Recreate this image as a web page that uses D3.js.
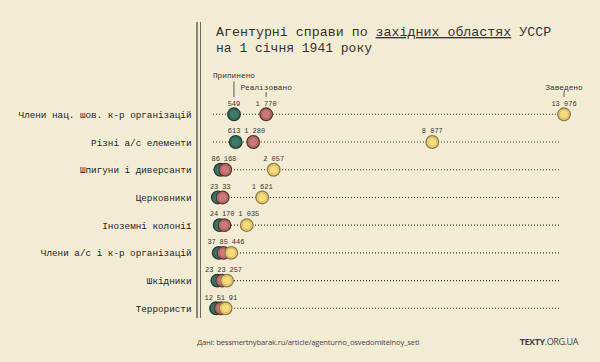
<!DOCTYPE html>
<html>
<head>
<meta charset="utf-8">
<script src="https://cdnjs.cloudflare.com/ajax/libs/d3/7.8.5/d3.min.js"></script>
<style>
  body { margin: 0; background: #f3ecd5; }
  svg { display: block; }
</style>
</head>
<body>
<div id="chart"></div>
<script>
var categories = [
  "Члени нац. шов. к-р організацій",
  "Різні а/с елементи",
  "Шпигуни і диверсанти",
  "Церковники",
  "Іноземні колонії",
  "Члени а/с і к-р організацій",
  "Шкідники",
  "Террористи"
];
var stopped  = [549, 613, 86, 23, 24, 37, 23, 12];      // Припинено
var realized = [1770, 1280, 168, 33, 170, 85, 23, 51];   // Реалізовано
var opened   = [13076, 8077, 2057, 1621, 1035, 446, 257, 91]; // Заведено
var seriesNames = ["Припинено", "Реалізовано", "Заведено"];
var fills   = ["#3d7c6b", "#cc7a77", "#f8dc7c"];
var strokes = ["#1f3a33", "#5b3131", "#8f7a45"];

var width = 600, height = 362;
var mono = "'Liberation Mono', 'Courier New', monospace";

var svg = d3.select("#chart")
  .append("svg")
  .attr("width", width)
  .attr("height", height);

svg.append("rect")
  .attr("width", width)
  .attr("height", height)
  .attr("fill", "#f3ecd5");

var x = d3.scaleLinear().domain([0, 13076]).range([219.5, 564]);
var y = d3.scalePoint().domain(categories).range([114.3, 308.3]);
var fmt = function(v) { return d3.format(",")(v).replace(/,/g, " "); };

// double vertical rule
svg.append("line").attr("x1", 197).attr("x2", 197).attr("y1", 22).attr("y2", 318)
  .attr("stroke", "#6f6a5e").attr("stroke-width", 1.6);
svg.append("line").attr("x1", 200.5).attr("x2", 200.5).attr("y1", 22).attr("y2", 318)
  .attr("stroke", "#6f6a5e").attr("stroke-width", 1);

// title
var title = svg.append("text")
  .attr("x", 216)
  .attr("y", 36)
  .style("font-family", mono)
  .style("font-size", "13.3px")
  .style("fill", "#333");
title.append("tspan").text("Агентурні справи по ");
title.append("tspan").style("text-decoration", "underline").text("західних областях");
title.append("tspan").text(" УССР");
svg.append("text")
  .attr("x", 216)
  .attr("y", 52)
  .style("font-family", mono)
  .style("font-size", "13px")
  .style("fill", "#333")
  .text("на 1 січня 1941 року");

// simple 1d dodge so overlapping things spread around their mean
function dodge(xs, sizes, gap) {
  var idx = xs.map(function(d, i) { return i; }).sort(function(a, b) { return xs[a] - xs[b]; });
  var out = xs.slice();
  var groups = [];
  idx.forEach(function(i) {
    groups.push({ items: [i] });
    // merge while overlapping
    while (groups.length > 1) {
      var g = groups[groups.length - 1], p = groups[groups.length - 2];
      layout(p); layout(g);
      var pl = p.items[p.items.length - 1], gf = g.items[0];
      if (out[gf] - out[pl] < (sizes[pl] + sizes[gf]) / 2 + gap) {
        p.items = p.items.concat(g.items);
        groups.pop();
      } else break;
    }
  });
  groups.forEach(layout);
  function layout(g) {
    var mean = d3.mean(g.items, function(i) { return xs[i]; });
    var pos = 0, p = [];
    g.items.forEach(function(i, k) {
      if (k > 0) pos += (sizes[g.items[k - 1]] + sizes[i]) / 2 + gap;
      p.push(pos);
    });
    var shift = mean - d3.mean(p);
    g.items.forEach(function(i, k) { out[i] = p[k] + shift; });
  }
  return out;
}

var rows = svg.append("g").attr("class", "rows");

categories.forEach(function(cat, r) {
  var vals = [stopped[r], realized[r], opened[r]];
  var cy = y(cat);
  var g = rows.append("g");

  g.append("text")
    .attr("x", 191.5)
    .attr("y", cy + 3.5)
    .style("text-anchor", "end")
    .style("font-family", mono)
    .style("font-size", "9.3px")
    .style("fill", "#222")
    .text(cat);

  var raw = vals.map(function(v) { return x(v); });
  var cx = dodge(raw, [0, 0, 0], 4.8);

  g.append("line")
    .attr("x1", 213)
    .attr("x2", Math.max(560, d3.max(cx)))
    .attr("y1", cy)
    .attr("y2", cy)
    .attr("stroke", "#333")
    .attr("stroke-width", 1.1)
    .attr("stroke-dasharray", "1,2");

  vals.forEach(function(v, i) {
    g.append("circle")
      .attr("cx", cx[i]).attr("cy", cy).attr("r", 6.3)
      .attr("fill", fills[i])
      .attr("stroke", strokes[i])
      .attr("stroke-width", 1.3);
    g.append("circle")
      .attr("cx", cx[i]).attr("cy", cy).attr("r", 4.5)
      .attr("fill", "none")
      .attr("stroke", strokes[i])
      .attr("stroke-opacity", 0.45)
      .attr("stroke-width", 0.8);
  });

  var labels = vals.map(fmt);
  var lw = labels.map(function(t) { return t.length * 4.2; });
  var lx = dodge(cx, lw, 3.8);
  labels.forEach(function(t, i) {
    g.append("text")
      .attr("x", lx[i])
      .attr("y", cy - 8.7)
      .style("text-anchor", "middle")
      .style("font-family", mono)
      .style("font-size", "7px")
      .style("fill", "#333")
      .text(t);
  });

  // legend callouts on the first row
  if (r === 0) {
    var ty = [78, 89.5, 89.5];
    var t0 = [81.5, 92, 92];
    seriesNames.forEach(function(name, i) {
      g.append("text")
        .attr("x", cx[i])
        .attr("y", ty[i])
        .style("text-anchor", "middle")
        .style("font-family", mono)
        .style("font-size", "7.8px")
        .style("fill", "#333")
        .text(name);
      g.append("line")
        .attr("x1", cx[i]).attr("x2", cx[i])
        .attr("y1", t0[i]).attr("y2", 97)
        .attr("stroke", "#333")
        .attr("stroke-width", 0.8);
    });
  }
});

// footer
svg.append("text")
  .attr("x", 197)
  .attr("y", 345)
  .style("font-family", "'Open Sans', sans-serif")
  .style("font-size", "7.6px")
  .style("letter-spacing", "-0.15px")
  .style("fill", "#444")
  .text("Дані: bessmertnybarak.ru/article/agenturno_osvedomitelnoy_seti");

var brand = svg.append("text")
  .attr("x", 578)
  .attr("y", 345)
  .style("text-anchor", "end")
  .style("font-family", "'Open Sans', sans-serif")
  .style("font-size", "9px")
  .style("letter-spacing", "-0.4px")
  .style("fill", "#444");
brand.append("tspan").style("font-weight", "bold").text("TEXTY");
brand.append("tspan").text(".ORG.UA");
</script>
</body>
</html>
